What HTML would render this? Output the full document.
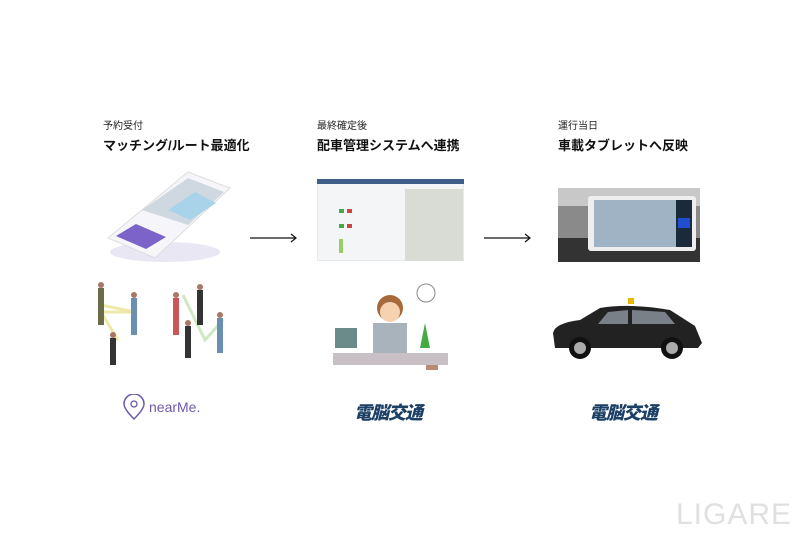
<!DOCTYPE html>
<html><head><meta charset="utf-8"><style>
body{margin:0;width:800px;height:533px;background:#fff;position:relative;overflow:hidden;font-family:"Liberation Sans","Noto Sans CJK JP",sans-serif}
.a{position:absolute}
.s{font-size:10px;color:#222}
.t{font-size:13px;font-weight:bold;color:#111}
.logo{font-size:18px;font-weight:900;font-style:italic;color:#1c3f66;letter-spacing:-1px}
</style></head><body>
<div class="a s" style="left:103px;top:117px">予約受付</div>
<div class="a t" style="left:103px;top:135px">マッチング/ルート最適化</div>
<div class="a s" style="left:317px;top:117px">最終確定後</div>
<div class="a t" style="left:317px;top:135px">配車管理システムへ連携</div>
<div class="a s" style="left:558px;top:117px">運行当日</div>
<div class="a t" style="left:558px;top:135px">車載タブレットへ反映</div>

<svg class="a" style="left:100px;top:170px" width="155" height="100">
<ellipse cx="65" cy="82" rx="55" ry="10" fill="#e9e7f3"/>
<polygon points="8,68 88,2 130,18 55,88" fill="#f6f6fa" stroke="#ddd"/>
<polygon points="42,40 88,8 124,22 88,55" fill="#cfd8e0"/>
<polygon points="68,40 95,22 116,33 90,50" fill="#a9d3e8"/>
<polygon points="16,66 36,54 66,67 46,79" fill="#7b63c9"/>
</svg>
<svg class="a" style="left:248px;top:232px" width="52" height="12"><line x1="2" y1="6" x2="48" y2="6" stroke="#111" stroke-width="1.2"/><polyline points="43,2 48,6 43,10" fill="none" stroke="#111" stroke-width="1.2"/></svg>
<svg class="a" style="left:482px;top:232px" width="52" height="12"><line x1="2" y1="6" x2="48" y2="6" stroke="#111" stroke-width="1.2"/><polyline points="43,2 48,6 43,10" fill="none" stroke="#111" stroke-width="1.2"/></svg>
<svg class="a" style="left:317px;top:179px" width="147" height="82">
<rect width="147" height="82" fill="#f4f5f6" stroke="#ddd"/>
<rect width="147" height="5" fill="#3d5f8a"/>
<rect x="88" y="10" width="58" height="72" fill="#d9dcd4"/>
<rect x="22" y="30" width="5" height="4" fill="#4a4"/><rect x="30" y="30" width="5" height="4" fill="#c44"/>
<rect x="22" y="45" width="5" height="4" fill="#4a4"/><rect x="30" y="45" width="5" height="4" fill="#c44"/>
<rect x="22" y="60" width="4" height="14" fill="#9c6"/>
</svg>
<svg class="a" style="left:558px;top:188px" width="142" height="74">
<rect width="142" height="74" fill="#8a8a8a"/>
<rect width="142" height="18" fill="#c8c8c8"/>
<rect x="0" y="50" width="142" height="24" fill="#333"/>
<rect x="30" y="8" width="108" height="55" rx="3" fill="#eee"/>
<rect x="36" y="12" width="82" height="47" fill="#9fb3c4"/>
<rect x="118" y="12" width="16" height="47" fill="#1a2a3a"/>
<rect x="120" y="30" width="12" height="10" fill="#1f4fd0"/>
</svg>
<svg class="a" style="left:93px;top:280px" width="170" height="85">
<polyline points="8,25 42,32 8,32 25,60" fill="none" stroke="#eee9a8" stroke-width="3"/>
<polyline points="90,15 112,60 130,40" fill="none" stroke="#cfe8c4" stroke-width="3"/>
<g fill="#333">
<circle cx="8" cy="5" r="3" fill="#a76"/><rect x="5" y="8" width="6" height="37" fill="#6b6b4a"/>
<circle cx="41" cy="15" r="3" fill="#a76"/><rect x="38" y="18" width="6" height="37" fill="#6b8fb0"/>
<circle cx="20" cy="55" r="3" fill="#a76"/><rect x="17" y="58" width="6" height="30"/>
<circle cx="83" cy="15" r="3" fill="#a76"/><rect x="80" y="18" width="6" height="37" fill="#c55"/>
<circle cx="107" cy="7" r="3" fill="#a76"/><rect x="104" y="10" width="6" height="35"/>
<circle cx="95" cy="43" r="3" fill="#a76"/><rect x="92" y="46" width="6" height="32"/>
<circle cx="127" cy="35" r="3" fill="#a76"/><rect x="124" y="38" width="6" height="35" fill="#6b8fb0"/></g>
</svg>
<svg class="a" style="left:330px;top:283px" width="125" height="92">
<circle cx="96" cy="10" r="9" fill="none" stroke="#888"/>
<circle cx="60" cy="25" r="13" fill="#a66a3a"/><circle cx="60" cy="29" r="10" fill="#f6d2b0"/>
<rect x="43" y="40" width="34" height="30" fill="#a9b3bb"/>
<rect x="5" y="45" width="22" height="20" fill="#6b8a8a"/>
<polygon points="95,40 100,65 90,65" fill="#4a4"/>
<rect x="3" y="70" width="115" height="12" fill="#c9c0c6"/>
<rect x="96" y="82" width="12" height="5" fill="#b87"/>
</svg>
<svg class="a" style="left:550px;top:298px" width="155" height="62">
<rect x="78" y="0" width="6" height="6" fill="#e6b800"/>
<path d="M3,35 Q5,25 30,22 L50,10 Q80,5 120,12 L145,28 L152,45 L148,50 L5,50 Z" fill="#222"/>
<path d="M58,14 L78,12 L78,26 L48,26 Z M82,12 L115,14 L125,26 L82,26 Z" fill="#7a8088"/>
<circle cx="30" cy="50" r="11" fill="#111"/><circle cx="30" cy="50" r="6" fill="#aaa"/>
<circle cx="122" cy="50" r="11" fill="#111"/><circle cx="122" cy="50" r="6" fill="#aaa"/>
</svg>
<svg class="a" style="left:121px;top:394px" width="26" height="28"><path d="M13,25 C4,16 3,12 3,10 A10,10 0 0 1 23,10 C23,12 22,16 13,25 Z" fill="none" stroke="#6e5aa8" stroke-width="1.5"/><circle cx="13" cy="10" r="3" fill="none" stroke="#6e5aa8" stroke-width="1.3"/></svg>
<div class="a" style="left:149px;top:399px;font-size:14px;color:#6e5aa8">nearMe.</div>
<div class="a logo" style="left:354px;top:399px">電脳交通</div>
<div class="a logo" style="left:589px;top:399px">電脳交通</div>
<div class="a" style="left:676px;top:498px;font-size:30px;color:#e0e0e0;letter-spacing:1px">LIGARE</div>
</body></html>
